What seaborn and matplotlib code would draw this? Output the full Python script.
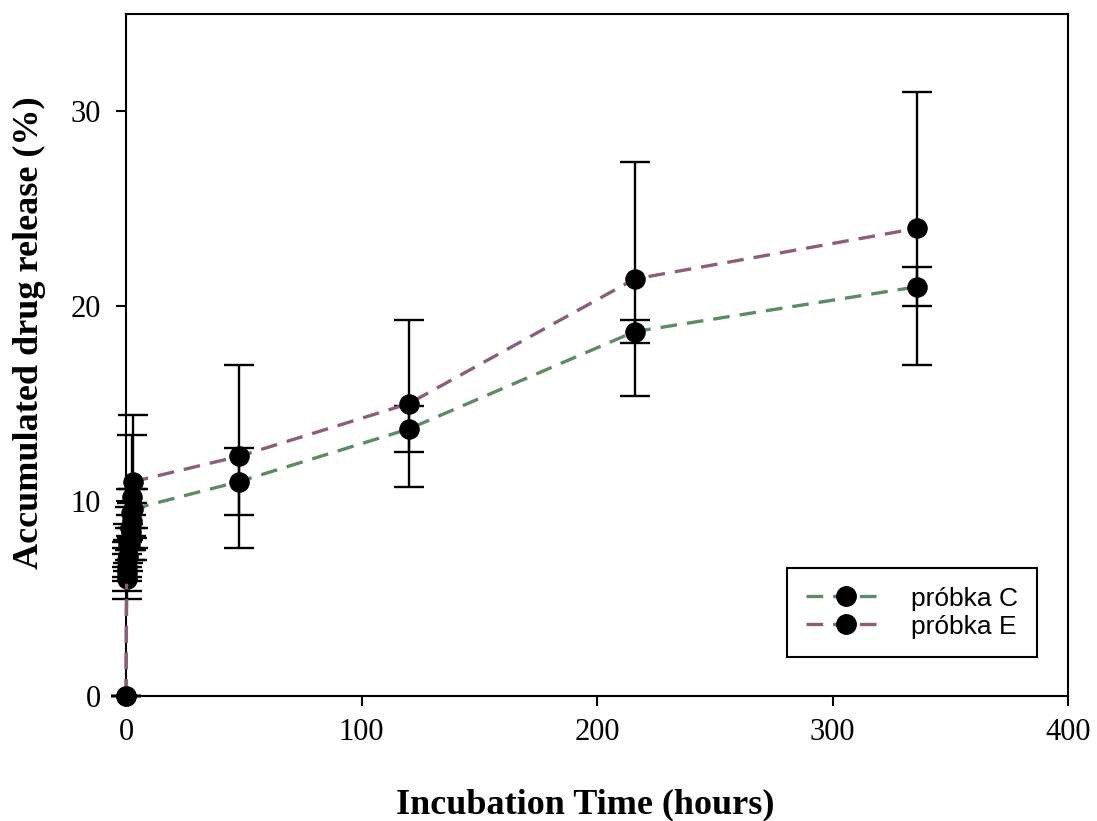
import numpy as np
import pandas as pd
import matplotlib
matplotlib.use("Agg")
import matplotlib.pyplot as plt
import seaborn as sns
from matplotlib.lines import Line2D

# czas inkubacji (h)
time = [0, 0.25, 0.5, 1, 1.5, 2, 2.5, 3, 48, 120, 216, 336]

# próbka C
release_c = [0, 6.0, 6.6, 7.2, 7.8, 8.4, 9.0, 9.6, 11.0, 13.7, 18.7, 21.0]
err_c = [0, 0.6, 0.7, 0.8, 0.8, 0.9, 0.9, 1.0, 1.7, 1.2, 0.6, 1.0]

# próbka E
release_e = [0, 6.3, 7.0, 7.8, 8.6, 9.4, 10.2, 11.0, 12.3, 15.0, 21.4, 24.0]
err_e = [0, 1.3, 0.9, 1.0, 1.1, 1.2, 3.2, 3.4, 4.7, 4.3, 6.0, 7.0]

labels = ["próbka C", "próbka E"]
colors = {"próbka C": "#5b8c63", "próbka E": "#8e5d7b"}

df = pd.DataFrame({
    "time": time * 2,
    "release": release_c + release_e,
    "err": err_c + err_e,
    "sample": [labels[0]] * len(time) + [labels[1]] * len(time),
})

sns.set_style("ticks")
plt.rcParams["font.family"] = ["Liberation Serif", "DejaVu Serif"]

fig = plt.figure(figsize=(10.97, 8.21), dpi=100)
ax = fig.add_axes([0.1149, 0.1523, 0.8587, 0.8307])

DASH = (5, 3)

sns.lineplot(data=df, x="time", y="release", hue="sample", palette=colors,
             ax=ax, legend=False, linewidth=2.4, estimator=None,
             zorder=3)
for line in ax.get_lines():
    line.set_dashes(DASH)
    line.set_marker("o")
    line.set_markersize(14)
    line.set_markerfacecolor("black")
    line.set_markeredgecolor("black")
    line.set_clip_on(False)

# słupki błędów
for s in labels:
    d = df[df["sample"] == s]
    ax.errorbar(d["time"], d["release"], yerr=d["err"], fmt="none",
                ecolor="black", elinewidth=1.7, capsize=11, capthick=1.7,
                zorder=2, clip_on=False)

ax.set_xlim(0, 400)
ax.set_ylim(0, 35)
ax.set_xticks([0, 100, 200, 300, 400])
ax.set_yticks([0, 10, 20, 30])
ax.tick_params(direction="out", length=7, width=1.5, labelsize=22,
               colors="black")
ax.tick_params(axis="y", pad=11)
ax.tick_params(axis="x", pad=9)
for sp in ax.spines.values():
    sp.set_linewidth(1.5)
    sp.set_color("black")

ax.set_xlabel("Incubation Time (hours)", fontsize=26, fontweight="bold",
              color="black")
ax.set_ylabel("Accumulated drug release (%)", fontsize=26, fontweight="bold",
              color="black")
ax.xaxis.set_label_coords(0.487, -0.135)
ax.yaxis.set_label_coords(-0.085, 0.532)

handles = [Line2D([0], [0], color=colors[s], lw=2.4, dashes=DASH,
                  marker="o", markersize=14, mfc="black", mec="black")
           for s in labels]
leg = ax.legend(handles, labels, loc="lower right",
                bbox_to_anchor=(0.967, 0.057), borderaxespad=0,
                fancybox=False, shadow=False,
                edgecolor="black", framealpha=1, borderpad=0.7,
                handlelength=3.0, handletextpad=1.0, labelspacing=0.15,
                prop={"family": "Liberation Sans", "size": 19})
leg.get_frame().set_linewidth(1.5)
for t in leg.get_texts():
    t.set_color("black")

fig.savefig("out.png", dpi=100)
